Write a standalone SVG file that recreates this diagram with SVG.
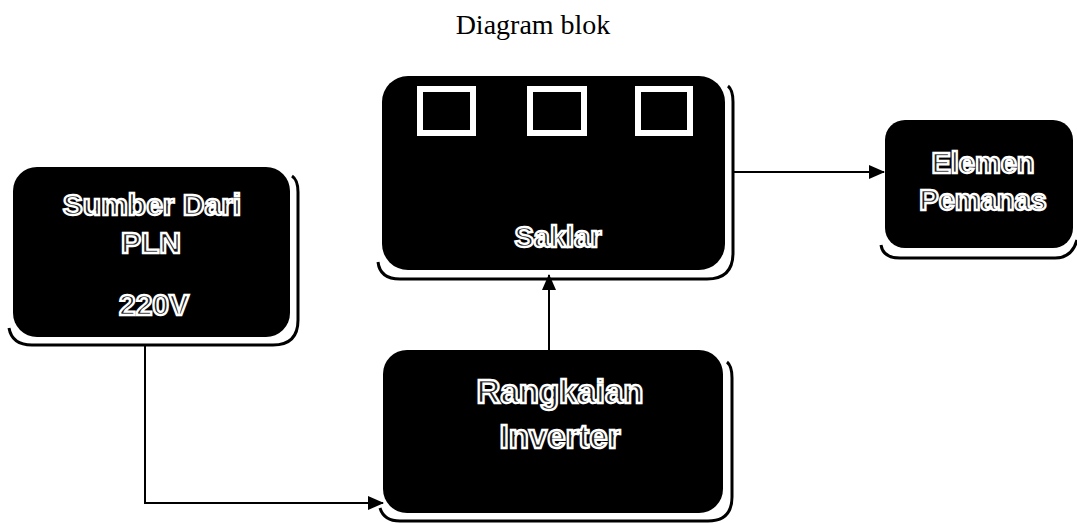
<svg xmlns="http://www.w3.org/2000/svg" width="1077" height="523" viewBox="0 0 1077 523">
<style>
.box{fill:#000}
.shadow{fill:none;stroke:#000;stroke-width:3}
.lbl{font-family:"Liberation Sans",Arial,sans-serif;font-weight:bold;fill:#1a1a1a;stroke:#fff;stroke-width:2.3;text-anchor:middle}
.sw{fill:none;stroke:#fff;stroke-width:6}
.conn{fill:none;stroke:#000;stroke-width:2}
.title{font-family:"Liberation Serif","Times New Roman",serif;font-size:28px;fill:#000;text-anchor:middle}
</style>
<defs>
<marker id="arr" viewBox="0 0 16 14" refX="15" refY="7" markerWidth="16" markerHeight="14" markerUnits="userSpaceOnUse" orient="auto">
<path d="M0,0 L16,7 L0,14 Z" fill="#000"/>
</marker>
</defs>
<rect width="1077" height="523" fill="#fff"/>
<text class="title" x="533" y="34">Diagram blok</text>

<g id="sumber">
<path class="shadow" d="M292,176 Q298,180 298,192 L298,320 Q298,345 273,345 L32,345 Q12,345 9,328"/>
<rect class="box" x="13" y="167" width="277" height="170" rx="24"/>
<text class="lbl" x="152" y="215" font-size="30">Sumber Dari</text>
<text class="lbl" x="151" y="253" font-size="30">PLN</text>
<text class="lbl" x="154" y="315" font-size="30">220V</text>
</g>

<g id="saklar">
<path class="shadow" d="M728,86 Q733,90 733,102 L733,253 Q733,279 707,279 L400,279 Q380,279 378,262"/>
<rect class="box" x="382" y="76" width="343" height="194" rx="26"/>
<rect class="sw" x="420" y="89" width="53" height="44"/>
<rect class="sw" x="530" y="89" width="54" height="44"/>
<rect class="sw" x="638" y="89" width="52" height="44"/>
<text class="lbl" x="558" y="247" font-size="29">Saklar</text>
</g>

<g id="inverter">
<path class="shadow" d="M727,362 Q732,366 732,378 L732,497 Q732,521 708,521 L400,521 Q384,521 380,508"/>
<rect class="box" x="383" y="350" width="340" height="163" rx="24"/>
<text class="lbl" x="560" y="403" font-size="33">Rangkaian</text>
<text class="lbl" x="560" y="448" font-size="33">Inverter</text>
</g>

<g id="elemen">
<path class="shadow" d="M1077,240 Q1072,258 1055,258 L900,258 Q883,258 881,245"/>
<rect class="box" x="885" y="120" width="188" height="128" rx="20"/>
<text class="lbl" x="983" y="173" font-size="29">Elemen</text>
<text class="lbl" x="983" y="210" font-size="29">Pemanas</text>
</g>

<g id="connectors">
<path class="conn" d="M145,346 L145,503 L383,503" marker-end="url(#arr)"/>
<path class="conn" d="M549,350 L549,275" marker-end="url(#arr)"/>
<path class="conn" d="M734,172 L884,172" marker-end="url(#arr)"/>
</g>
</svg>
